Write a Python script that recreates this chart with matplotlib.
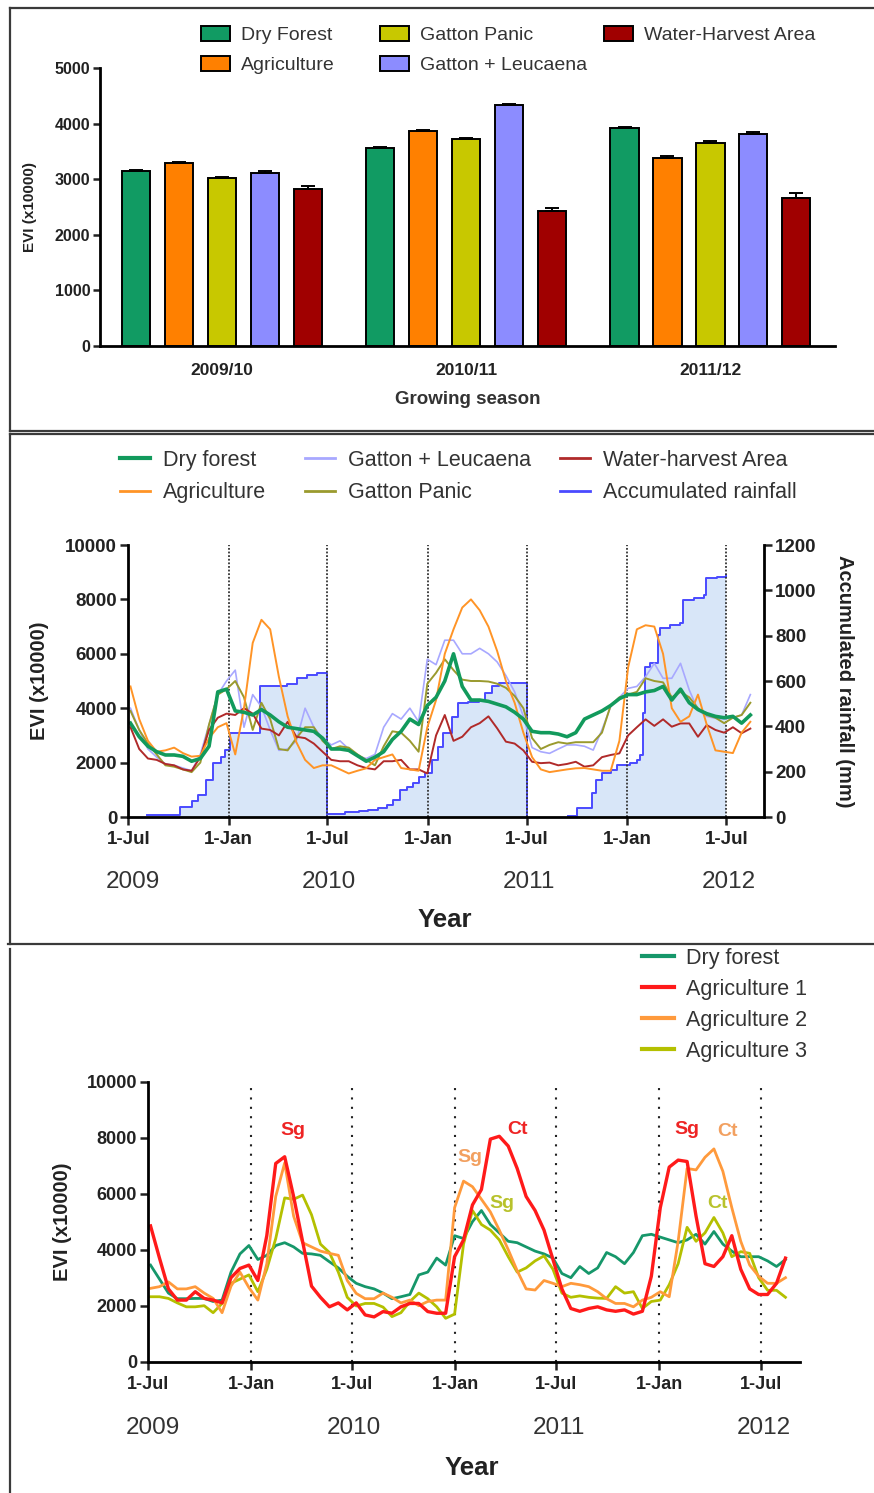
import matplotlib
matplotlib.use("Agg")
import matplotlib.pyplot as plt
from matplotlib.lines import Line2D
from matplotlib.patches import Patch
import numpy as np

plt.rcParams["font.family"] = ["Liberation Sans", "DejaVu Sans"]

# ---------------- data: panel 1 (seasonal mean EVI) ----------------
seasons = ["2009/10", "2010/11", "2011/12"]
bar_names = ["Dry Forest", "Agriculture", "Gatton Panic", "Gatton + Leucaena", "Water-Harvest Area"]
dry_forest_bar = [3150, 3560, 3925]
agriculture_bar = [3290, 3870, 3390]
gatton_panic_bar = [3030, 3730, 3660]
gatton_leuc_bar = [3120, 4330, 3805]
water_harvest_bar = [2830, 2430, 2670]
dry_forest_err = [20, 20, 20]
agriculture_err = [20, 20, 20]
gatton_panic_err = [15, 15, 20]
gatton_leuc_err = [20, 15, 40]
water_harvest_err = [40, 50, 80]

# ---------------- data: panel 2 (16-day EVI, days since 1 Jul 2009) ----------------
evi_day = np.arange(72) * 16 + 4
dry_forest_m = [3450, 2950, 2600, 2400, 2280, 2280, 2230, 2050, 2150, 2600, 4600, 4700,
                3900, 3850, 3750, 3950, 3750, 3500, 3300, 3250, 3200, 3150, 2900, 2500,
                2500, 2450, 2250, 2050, 2200, 2400, 2850, 3150, 3600, 3400, 4100, 4400,
                5000, 6000, 4800, 4300, 4300, 4250, 4150, 4050, 3850, 3600,
                3150, 3100, 3100, 3050, 2950, 3100, 3600, 3750, 3900, 4100, 4350, 4500,
                4500, 4600, 4650, 4800, 4300, 4700, 4200, 3950, 3800, 3700, 3650, 3700,
                3450, 3750]
agriculture_m = [4800, 3600, 2800, 2400, 2450, 2550, 2350, 2220, 2250, 2900, 3300, 3450,
                 2300, 4000, 6400, 7250, 6900, 5150, 3700, 2750, 2100, 1800, 1900, 1900,
                 1750, 1600, 1700, 1790, 2100, 2200, 2300, 1800, 1750, 1700, 3300, 4300,
                 6000, 6900, 7700, 8000, 7600, 7000, 6100, 5000, 4200, 3100,
                 2200, 1750, 1650, 1700, 1750, 1790, 1800, 1750, 1700, 1700, 2800, 5500,
                 6900, 7050, 7000, 6000, 4000, 3500, 3700, 4500, 3400, 2450, 2400, 2350,
                 3100, 3500]
gatton_leuc_m = [4000, 3200, 2500, 2200, 1950, 1900, 1800, 1700, 2300, 3400, 4500, 5000,
                 5400, 3300, 4500, 4050, 3200, 2450, 2500, 2800, 4000, 3300, 2900, 2650,
                 2800, 2500, 2250, 2150, 2300, 3300, 3800, 3600, 4000, 3500, 5800, 5600,
                 6500, 6500, 6000, 6000, 6200, 6000, 5700, 5200, 4600, 3700,
                 2550, 2400, 2340, 2500, 2650, 2650, 2600, 2460, 3200, 4060, 4400, 4730,
                 4800, 5160, 5650, 5100, 5100, 5650, 4670, 3930, 3700, 3630, 3600, 3650,
                 3750, 4500]
gatton_panic_m = [3900, 3200, 2700, 2300, 1900, 1850, 1750, 1650, 2000, 3400, 4500, 4700,
                  5000, 4400, 3200, 4200, 3600, 2500, 2450, 2900, 3300, 3300, 2800, 2500,
                  2600, 2550, 2300, 2100, 1900, 2600, 3150, 3100, 2800, 2400, 4900, 5300,
                  5800, 5400, 5050, 5000, 5000, 4980, 4900, 4750, 4450, 4000,
                  2900, 2500, 2650, 2750, 2700, 2750, 2750, 2750, 3100, 4100, 4400, 4500,
                  4600, 5100, 5000, 4950, 4400, 4600, 4400, 4000, 3750, 3650, 3450, 3650,
                  3750, 4200]
water_harvest_m = [3300, 2500, 2150, 2100, 1950, 1900, 1750, 1700, 2200, 3200, 3650, 3800,
                   3750, 4000, 3800, 3250, 3200, 3000, 3500, 2950, 2900, 2700, 2400, 2100,
                   2050, 2050, 1900, 1800, 1750, 2050, 2050, 2100, 1750, 1750, 1600, 3000,
                   3750, 2800, 2950, 3300, 3450, 3700, 3260, 2770, 2700, 2450,
                   2030, 1980, 2000, 1900, 1950, 2030, 1850, 1900, 2200, 2280, 2340, 3000,
                   3300, 3590, 3350, 3590, 3320, 3440, 3440, 2950, 3380, 3200, 3100, 3300,
                   3080, 3250]

# accumulated rainfall (mm), reset each 1 Jul
rain1_day = [34, 95, 116, 128, 143, 156, 170, 177, 186, 241, 290, 309, 327, 345, 365, 365]
rain1_mm = [9, 43, 72, 97, 163, 237, 265, 295, 370, 578, 587, 612, 626, 637, 637, 0]
rain2_day = [366, 397, 422, 440, 458, 474, 486, 498, 510, 522, 532, 544, 556, 568, 577,
             593, 605, 623, 642, 654, 666, 680, 730, 730]
rain2_mm = [12, 20, 26, 31, 38, 53, 75, 119, 134, 148, 178, 193, 251, 310, 369,
            442, 501, 509, 516, 545, 578, 592, 592, 0]
rain3_day = [806, 822, 849, 858, 868, 884, 895, 920, 932, 938, 944, 947, 956, 971, 974,
             993, 1011, 1017, 1036, 1055, 1058, 1079, 1096]
rain3_mm = [4, 38, 104, 163, 193, 207, 229, 240, 251, 273, 457, 663, 678, 803, 832,
            847, 854, 957, 964, 979, 1053, 1060, 1067]

# ---------------- data: panel 3 ----------------
dry_forest_b = [3450, 2950, 2450, 2250, 2250, 2260, 2260, 2150, 2200, 3200, 3850, 4150,
                3650, 3800, 4150, 4250, 4100, 3870, 3850, 3800, 3570, 3350, 3050, 2800,
                2680, 2600, 2450, 2250, 2320, 2400, 3100, 3200, 3700, 3450, 4500, 4400,
                5000, 5400, 4900, 4600, 4300, 4250, 4100, 3950, 3850, 3700,
                3150, 3000, 3400, 3150, 3350, 3900, 3750, 3500, 3900, 4500, 4550, 4450,
                4350, 4250, 4350, 4550, 4200, 4650, 4200, 3950, 3750, 3750, 3750, 3600,
                3400, 3650]
agric1_b = [4850, 3700, 2600, 2200, 2200, 2500, 2260, 2200, 2100, 3000, 3330, 3450,
            2900, 4500, 7080, 7320, 5900, 4300, 2700, 2300, 1960, 2100, 1850, 2100,
            1670, 1600, 1790, 1730, 1960, 2080, 2080, 1790, 1730, 1730, 3750, 4350,
            5600, 6150, 7950, 8050, 7700, 6900, 5900, 5400, 4700, 3650,
            2600, 1900, 1800, 1900, 1960, 1850, 1800, 1850, 1700, 1800, 3050, 5500,
            6950, 7200, 7150, 5200, 3500, 3400, 3750, 4500, 3300, 2600, 2400, 2400,
            2800, 3700]
agric2_b = [2620, 2680, 2850, 2600, 2600, 2680, 2450, 2260, 1750, 2700, 3200, 2650,
            2200, 3500, 5900, 7100, 5200, 4250, 4100, 3950, 3870, 3800, 2900, 2440,
            2250, 2250, 2450, 2300, 2100, 2200, 2000, 2150, 2200, 2200, 5500, 6450,
            6250, 5800, 5350, 4700, 4000, 3250, 2600, 2560, 2900, 2800,
            2680, 2800, 2750, 2680, 2500, 2250, 2080, 2080, 1960, 2200, 2300, 2500,
            2320, 4300, 6900, 6850, 7300, 7600, 6800, 5500, 4300, 3450, 3050, 2800,
            2800, 3000]
agric3_b = [2320, 2320, 2260, 2100, 1960, 1960, 2000, 1750, 2080, 2800, 2950, 3100,
            2500, 3300, 4400, 5850, 5800, 5950, 5250, 4200, 3900, 3200, 2300, 1990,
            2080, 2080, 1950, 1610, 1750, 2150, 2450, 2250, 1960, 1550, 1700, 4200,
            5400, 4900, 4700, 4350, 3750, 3200, 3350, 3600, 3780, 3300,
            2450, 2300, 2350, 2300, 2270, 2260, 2680, 2450, 2500, 1900, 2150, 2200,
            2750, 3500, 4800, 4300, 4600, 5150, 4600, 3750, 3930, 3870, 3000, 2550,
            2550, 2300]

tick_days = [0, 184, 365, 549, 730, 914, 1096]
tick_labels = ["1-Jul", "1-Jan", "1-Jul", "1-Jan", "1-Jul", "1-Jan", "1-Jul"]
year_days = [8, 368, 734, 1101]
year_labels = ["2009", "2010", "2011", "2012"]

# colours
c_dry = "#119b63"
c_agri = "#ff8000"
c_panic = "#c8c800"
c_leuc = "#8c8cff"
c_water = "#a00000"

W, H = 874, 1493
fig = plt.figure(figsize=(W / 100, H / 100), dpi=100)


def fx(px):
    return px / W


def fy(py):
    return 1 - py / H


def box(l, t, r, b):
    return [fx(l), fy(b), fx(r) - fx(l), fy(t) - fy(b)]


def bold_ticks(ax):
    for lbl in ax.get_xticklabels() + ax.get_yticklabels():
        lbl.set_fontweight("bold")


def style_spines(ax, sides=("left", "bottom")):
    for s in ["left", "right", "top", "bottom"]:
        ax.spines[s].set_visible(s in sides)
        ax.spines[s].set_linewidth(2)


# frames around the panels
frame_kw = dict(transform=fig.transFigure, color="#3a3a3a", lw=1.6)
for (x1, y1, x2, y2) in [(10, 8, 874, 8), (10, 8, 10, 431), (10, 431, 874, 431),
                         (10, 434, 874, 434), (10, 434, 10, 944), (8, 944, 874, 944),
                         (10, 949, 10, 1493)]:
    fig.add_artist(Line2D([fx(x1), fx(x2)], [fy(y1), fy(y2)], **frame_kw))

# ================= panel 1 =================
ax1 = fig.add_axes(box(100, 68, 835, 346))
group_x = np.arange(len(seasons))
bar_sets = [(dry_forest_bar, dry_forest_err, c_dry),
            (agriculture_bar, agriculture_err, c_agri),
            (gatton_panic_bar, gatton_panic_err, c_panic),
            (gatton_leuc_bar, gatton_leuc_err, c_leuc),
            (water_harvest_bar, water_harvest_err, c_water)]
step = 0.176
for i, (vals, err, col) in enumerate(bar_sets):
    ax1.bar(group_x + (i - 2) * step, vals, width=0.115, color=col,
            edgecolor="black", linewidth=1.4,
            yerr=[np.zeros(len(err)), err], capsize=5,
            error_kw=dict(elinewidth=1.4, capthick=1.4, ecolor="black"))
ax1.set_xlim(-0.5, 2.51)
ax1.set_ylim(0, 5000)
ax1.set_yticks(range(0, 5001, 1000))
ax1.set_xticks(group_x, seasons)
ax1.tick_params(axis="x", length=0, pad=12, labelsize=12.5, colors="#222222")
ax1.tick_params(axis="y", direction="out", length=5, width=1.8, pad=2,
                labelsize=11.5, colors="#222222")
bold_ticks(ax1)
style_spines(ax1)
ax1.text(-0.095, 0.5, "EVI (x10000)", transform=ax1.transAxes, rotation=90,
         ha="center", va="center", fontsize=11, fontweight="bold", color="#222222")
ax1.text(0.5, -0.194, "Growing season", transform=ax1.transAxes, ha="center",
         va="center", fontsize=13.5, color="#333333", fontweight="semibold")

leg_kw = dict(loc="upper left", frameon=False, borderpad=0, borderaxespad=0,
              labelcolor="#333333")
cols = [c_dry, c_agri, c_panic, c_leuc, c_water]
patch = [Patch(facecolor=c, edgecolor="black", linewidth=1.4) for c in cols]
for idxs, xpos in [([0, 1], 201), ([2, 3], 380), ([4], 604)]:
    fig.legend([patch[i] for i in idxs], [bar_names[i] for i in idxs],
               bbox_to_anchor=(fx(xpos), fy(26)), fontsize=14, handlelength=1.5,
               handleheight=0.8, handletextpad=0.55, labelspacing=0.62, **leg_kw)

# ================= panel 2 =================
ax2 = fig.add_axes(box(128.3, 545, 764, 817))
ax2r = ax2.twinx()
ax2.set_zorder(ax2r.get_zorder() + 1)
ax2.patch.set_visible(False)

c_rain = "#4a4aff"
for d, mm in [(rain1_day, rain1_mm), (rain2_day, rain2_mm), (rain3_day, rain3_mm)]:
    ax2r.fill_between(d, mm, step="post", color="#d8e6f8", lw=0)
    ax2r.step(d, mm, where="post", color=c_rain, lw=1.4)
for d in tick_days[1:]:
    ax2r.axvline(d, color="#333333", lw=1.3, ls=(0, (1, 1)), zorder=3)

ax2.plot(evi_day, gatton_leuc_m, color="#a8a8ff", lw=1.2)
ax2.plot(evi_day, gatton_panic_m, color="#9a9a2e", lw=1.4)
ax2.plot(evi_day, water_harvest_m, color="#b02a2a", lw=1.4)
ax2.plot(evi_day, agriculture_m, color="#ff9426", lw=1.4)
ax2.plot(evi_day, dry_forest_m, color="#129a5c", lw=2.6)

ax2.set_xlim(0, 1165)
ax2.set_ylim(0, 10000)
ax2r.set_ylim(0, 1200)
ax2.set_yticks(range(0, 10001, 2000))
ax2r.set_yticks(range(0, 1201, 200))
ax2.set_xticks(tick_days, tick_labels)
for a in (ax2, ax2r):
    a.tick_params(direction="out", length=6, width=1.8, pad=2, labelsize=13.5,
                  colors="#222222")
    bold_ticks(a)
ax2.tick_params(axis="x", pad=4)
style_spines(ax2, ("left", "bottom"))
style_spines(ax2r, ("right",))
ax2.text(-0.139, 0.5, "EVI (x10000)", transform=ax2.transAxes, rotation=90,
         ha="center", va="center", fontsize=14.5, fontweight="bold", color="#222222")
ax2.text(1.127, 0.5, "Accumulated rainfall (mm)", transform=ax2.transAxes,
         rotation=270, ha="center", va="center", fontsize=14.5, fontweight="bold",
         color="#222222")
for d, y in zip(year_days, year_labels):
    ax2.text(d, -0.239, y, transform=ax2.get_xaxis_transform(), ha="center",
             va="center", fontsize=17.5, color="#333333")
ax2.text(0.498, -0.379, "Year", transform=ax2.transAxes, ha="center", va="center",
         fontsize=18.5, fontweight="bold", color="#222222")

mid_handles = [Line2D([], [], color="#129a5c", lw=3),
               Line2D([], [], color="#ff9426", lw=2),
               Line2D([], [], color="#a8a8ff", lw=2),
               Line2D([], [], color="#9a9a2e", lw=2),
               Line2D([], [], color="#b02a2a", lw=2),
               Line2D([], [], color=c_rain, lw=2)]
mid_labels = ["Dry forest", "Agriculture", "Gatton + Leucaena", "Gatton Panic",
              "Water-harvest Area", "Accumulated rainfall"]
for idxs, xpos in [([0, 1], 120), ([2, 3], 305), ([4, 5], 560)]:
    fig.legend([mid_handles[i] for i in idxs], [mid_labels[i] for i in idxs],
               bbox_to_anchor=(fx(xpos), fy(450)), fontsize=15.5, handlelength=1.4,
               handletextpad=0.6, labelspacing=0.52, **leg_kw)

# ================= panel 3 =================
ax3 = fig.add_axes(box(148.3, 1081.7, 800, 1361.7))
for d in tick_days[1:]:
    ax3.axvline(d, color="#222222", lw=1.5, ls=(0, (1, 3.5)), zorder=1)
c_a1, c_a2, c_a3, c_df = "#ff1a1a", "#ff9a3c", "#b4c000", "#16976a"
ax3.plot(evi_day, dry_forest_b, color=c_df, lw=2.0)
ax3.plot(evi_day, agric3_b, color=c_a3, lw=2.0)
ax3.plot(evi_day, agric2_b, color=c_a2, lw=2.0)
ax3.plot(evi_day, agric1_b, color=c_a1, lw=2.4)
ax3.set_xlim(0, 1166)
ax3.set_ylim(0, 10000)
ax3.set_yticks(range(0, 10001, 2000))
ax3.set_xticks(tick_days, tick_labels)
ax3.tick_params(direction="out", length=6, width=1.8, pad=2, labelsize=13,
                colors="#222222")
ax3.tick_params(axis="x", pad=4)
bold_ticks(ax3)
style_spines(ax3)
ax3.text(-0.132, 0.5, "EVI (x10000)", transform=ax3.transAxes, rotation=90,
         ha="center", va="center", fontsize=14.5, fontweight="bold", color="#222222")
for d, y in zip(year_days, year_labels):
    ax3.text(d, -0.237, y, transform=ax3.get_xaxis_transform(), ha="center",
             va="center", fontsize=17.5, color="#333333")
ax3.text(0.497, -0.38, "Year", transform=ax3.transAxes, ha="center", va="center",
         fontsize=18.5, fontweight="bold", color="#222222")

crop_notes = [("Sg", 259, 8270, "#ee2424"), ("Sg", 575, 7300, "#f2a060"),
              ("Ct", 660, 8300, "#ee2424"), ("Sg", 633, 5650, "#b8c22c"),
              ("Sg", 964, 8300, "#ee2424"), ("Ct", 1037, 8230, "#f2a060"),
              ("Ct", 1019, 5650, "#b8c22c")]
for txt, d, v, col in crop_notes:
    ax3.text(d, v, txt, color=col, fontsize=14, fontweight="bold", ha="center",
             va="center")

bot_handles = [Line2D([], [], color=c, lw=3) for c in (c_df, c_a1, c_a2, c_a3)]
bot_labels = ["Dry forest", "Agriculture 1", "Agriculture 2", "Agriculture 3"]
fig.legend(bot_handles, bot_labels, bbox_to_anchor=(fx(642), fy(948)), fontsize=15.5,
           handlelength=1.5, handletextpad=0.55, labelspacing=0.46, **leg_kw)

fig.savefig("out.png", dpi=100)
